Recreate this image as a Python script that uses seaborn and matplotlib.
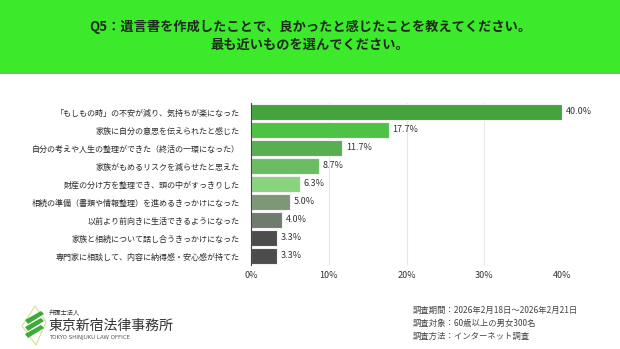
import matplotlib
matplotlib.use("Agg")
import matplotlib.pyplot as plt
import seaborn as sns
import pandas as pd
from matplotlib.patches import Polygon, Rectangle

sns.set_theme(style="white")
plt.rcParams['font.family'] = ['Noto Sans CJK JP', 'DejaVu Sans']

categories = [
    "「もしもの時」の不安が減り、気持ちが楽になった",
    "家族に自分の意思を伝えられたと感じた",
    "自分の考えや人生の整理ができた（終活の一環になった）",
    "家族がもめるリスクを減らせたと思えた",
    "財産の分け方を整理でき、頭の中がすっきりした",
    "相続の準備（書類や情報整理）を進めるきっかけになった",
    "以前より前向きに生活できるようになった",
    "家族と相続について話し合うきっかけになった",
    "専門家に相談して、内容に納得感・安心感が持てた",
]
values = [40.0, 17.7, 11.7, 8.7, 6.3, 5.0, 4.0, 3.3, 3.3]
bar_colors = ["#45A33D", "#4EC245", "#58AF50", "#6ABD62", "#89D37F",
              "#7C9877", "#6F7C6D", "#4C4C4C", "#4C4C4C"]
xticks = [0, 10, 20, 30, 40]
xtick_labels = ["0%", "10%", "20%", "30%", "40%"]
title_lines = ["Q5：遺言書を作成したことで、良かったと感じたことを教えてください。",
               "最も近いものを選んでください。"]
footer_lines = ["調査期間：2026年2月18日〜2026年2月21日",
                "調査対象：60歳以上の男女300名",
                "調査方法：インターネット調査"]

df = pd.DataFrame({"category": categories, "value": values})

fig = plt.figure(figsize=(6.2, 3.49), dpi=100)
fig.patch.set_facecolor("white")

# header band
fig.add_artist(Rectangle((0, 1 - 72 / 349), 1, 72 / 349, transform=fig.transFigure,
                         facecolor="#3CEA2B", edgecolor="none", zorder=0))
fig.add_artist(Rectangle((0, 1 - 74 / 349), 1, 2 / 349, transform=fig.transFigure,
                         facecolor="#4FD446", edgecolor="none", zorder=0))
fig.text(0.5, 1 - 27 / 349, title_lines[0], ha="center", va="center",
         fontsize=9.5, fontweight="bold", color="#1E2A1E")
fig.text(0.5, 1 - 45 / 349, title_lines[1], ha="center", va="center",
         fontsize=9.5, fontweight="bold", color="#1E2A1E")

ax = fig.add_axes([251 / 620, 1 - 265 / 349, (562 - 251) / 620, 162 / 349])
sns.barplot(data=df, x="value", y="category", hue="category", palette=bar_colors,
            legend=False, ax=ax, width=0.88, orient="h", saturation=1,
            edgecolor="#F2F2F2", linewidth=0.8)
ax.set_xlim(0, 40)
ax.set_ylim(8.5, -0.5)
ax.set_xticks(xticks)
ax.set_xticklabels(xtick_labels, fontsize=6.5, color="#333333")
ax.tick_params(axis="y", labelsize=5.8, colors="#2A2A2A", length=0, pad=8)
ax.tick_params(axis="x", length=0, pad=4)
ax.set_xlabel("")
ax.set_ylabel("")
ax.grid(axis="x", color="#E6E6E6", linewidth=0.8)
ax.set_axisbelow(True)
for s in ["top", "right", "bottom"]:
    ax.spines[s].set_visible(False)
ax.spines["left"].set_color("#444444")
ax.spines["left"].set_linewidth(0.8)

for i, v in enumerate(values):
    ax.text(v + 0.5, i, f"{v:.1f}%", va="center", ha="left", fontsize=6.5,
            color="#333333")

# logo
def fx(px):
    return px / 620
def fy(py):
    return 1 - py / 349

outline = Polygon([(fx(35), fy(306)), (fx(46), fy(322)), (fx(36), fy(345)), (fx(22), fy(326))],
                  closed=True, transform=fig.transFigure, facecolor="none",
                  edgecolor="#D2DC7A", linewidth=0.7)
fig.add_artist(outline)
for k in range(3):
    off = k * 7
    stripe = Polygon([(fx(25), fy(320 + off)), (fx(41), fy(311 + off)),
                      (fx(44), fy(314 + off)), (fx(28), fy(324 + off))],
                     closed=True, transform=fig.transFigure,
                     facecolor="#3DAA3A", edgecolor="none")
    fig.add_artist(stripe)

fig.text(fx(49), fy(314), "弁護士法人", fontsize=4.5, color="#333333", va="center")
fig.text(fx(48), fy(326), "東京新宿法律事務所", fontsize=10, color="#333333", va="center")
fig.text(fx(49), fy(338), "TOKYO SHINJUKU LAW OFFICE", fontsize=4, color="#555555",
         va="center", family=["DejaVu Sans"])

for i, line in enumerate(footer_lines):
    fig.text(fx(413), fy(310 + 13 * i), line, fontsize=6, color="#444444", va="center")

fig.savefig("out.png", dpi=100, facecolor="white")
